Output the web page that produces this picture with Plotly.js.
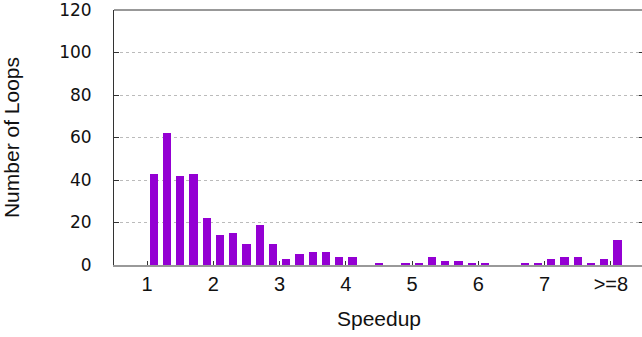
<!DOCTYPE html>
<html>
<head>
<meta charset="utf-8">
<script src="https://cdn.plot.ly/plotly-3.0.1.min.js"></script>
<style>
html,body{margin:0;padding:0;overflow:hidden;background:#fff;}
#chart{width:646px;height:337px;}
</style>
</head>
<body>
<div id="chart"></div>
<script>
// Bin centres (speedup bins of width 0.2, last bin = ">=8")
const binCenters = [1.1,1.3,1.5,1.7,1.9,2.1,2.3,2.5,2.7,2.9,3.1,3.3,3.5,3.7,3.9,4.1,4.3,4.5,4.7,4.9,5.1,5.3,5.5,5.7,5.9,6.1,6.3,6.5,6.7,6.9,7.1,7.3,7.5,7.7,7.9,8.1];
const loopCounts = [43,62,42,43,22,14,15,10,19,10,3,5,6,6,4,4,0,1,0,1,1,4,2,2,1,1,0,0,1,1,3,4,4,1,3,12];
const xTickVals = [1,2,3,4,5,6,7,8];
const xTickText = ["1","2","3","4","5","6","7",">=8"];
const yTickVals = [0,20,40,60,80,100,120];

const trace = {
  type: 'bar',
  x: binCenters,
  y: loopCounts,
  width: 0.125,
  marker: {color: '#9400D3', line: {width: 0}},
  hoverinfo: 'x+y'
};

const layout = {
  width: 646,
  height: 337,
  margin: {l: 114, r: 2, t: 10, b: 72},
  paper_bgcolor: '#fff',
  plot_bgcolor: '#fff',
  showlegend: false,
  bargap: 0,
  xaxis: {
    range: [0.5, 8.5],
    tickvals: xTickVals,
    ticktext: xTickText,
    ticks: 'inside',
    ticklen: 4,
    tickcolor: '#333',
    showgrid: false,
    zeroline: false,
    showline: true,
    linecolor: '#999',
    linewidth: 2,
    tickfont: {family: 'Liberation Sans, Arial, sans-serif', size: 20, color: '#111'},
    title: {text: 'Speedup', font: {family: 'Liberation Sans, Arial, sans-serif', size: 21, color: '#111'}, standoff: 17},
    fixedrange: true
  },
  yaxis: {
    range: [0, 120],
    tickvals: yTickVals,
    ticks: 'inside',
    ticklen: 5,
    tickcolor: '#333',
    showgrid: true,
    gridcolor: '#bbb',
    griddash: 'dot',
    gridwidth: 1,
    zeroline: false,
    showline: true,
    linecolor: '#333',
    linewidth: 1,
    mirror: 'ticks',
    ticklabelstandoff: 18,
    ticklabeloverflow: 'allow',
    tickfont: {family: 'DejaVu Sans, sans-serif', size: 17, color: '#111'},
    title: {text: 'Number of Loops', font: {family: 'Liberation Sans, Arial, sans-serif', size: 21, color: '#111'}, standoff: 34},
    fixedrange: true
  },
  shapes: [
    {type: 'line', xref: 'paper', yref: 'paper', x0: 0, x1: 1, y0: 1, y1: 1, line: {color: '#333', width: 1}}
  ]
};

Plotly.newPlot('chart', [trace], layout, {displayModeBar: false, staticPlot: true});
</script>
</body>
</html>
